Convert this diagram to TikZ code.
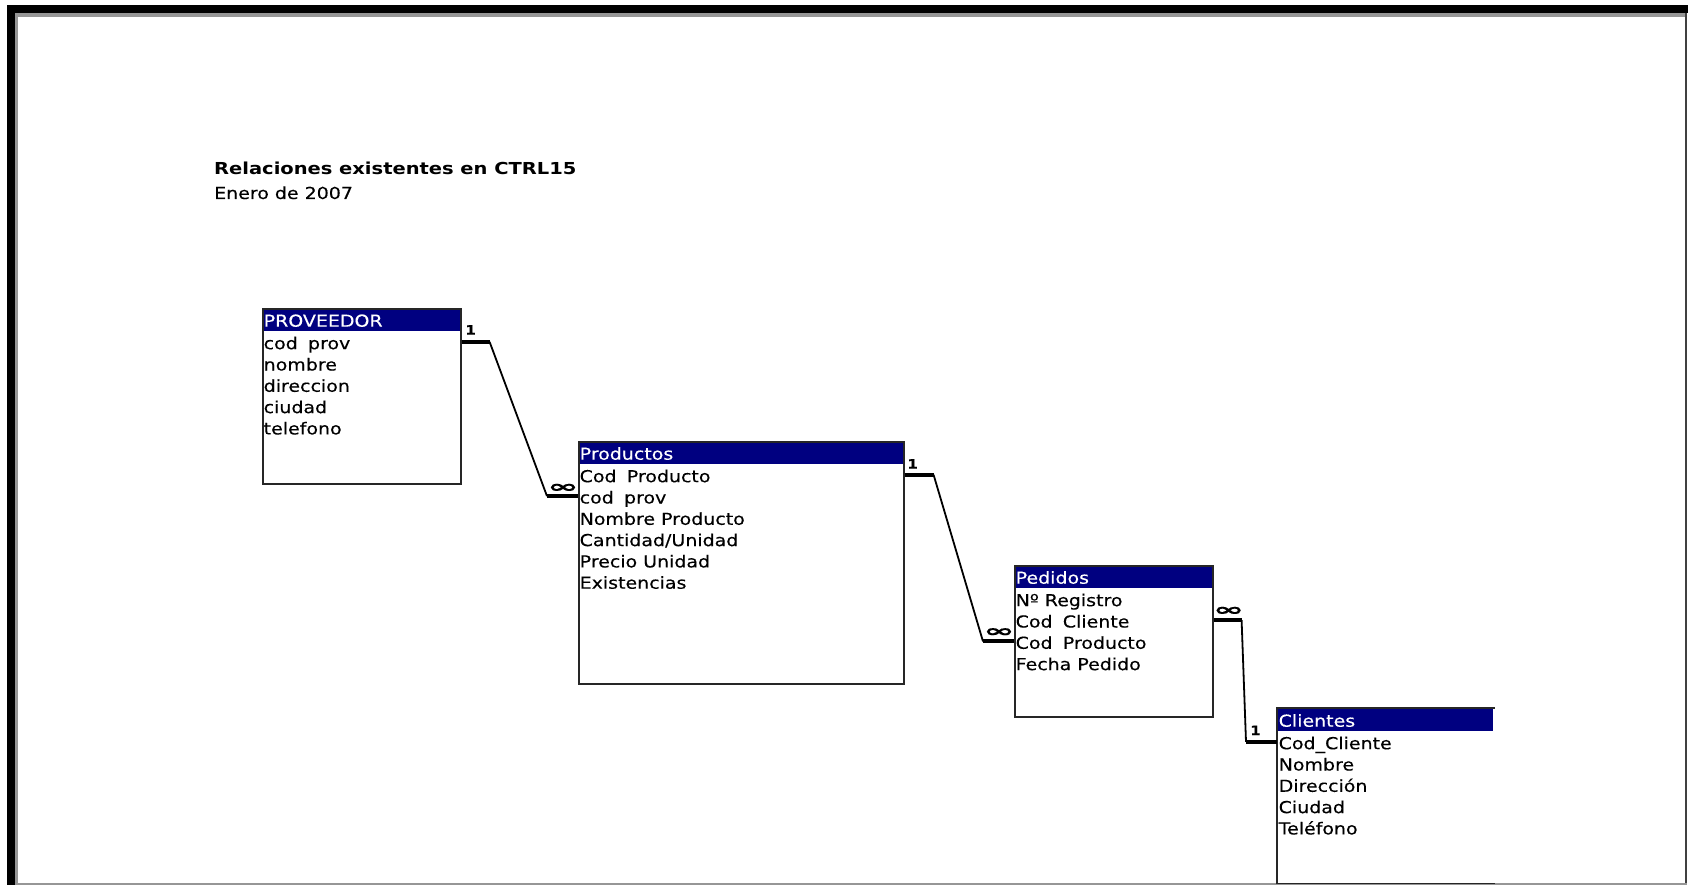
\documentclass[tikz,border=0pt]{standalone}
\usepackage{fontspec}
\setmainfont{DejaVu Sans}[FakeStretch=1.15,FakeBold=0.3]
\newfontfamily\titlefont{DejaVu Sans}[FakeStretch=1.18]
\usetikzlibrary{calc}
\definecolor{cabecera}{RGB}{0,0,128}
\definecolor{marco}{RGB}{150,150,150}
% wide gap used inside some field names
\newcommand{\hueco}{\hspace{0.62em}}

% #1 box style, #2 name, #3 left, #4 top, #5 width, #6 height, #7 title, #8 fields
\newcommand{\tablaer}[8][tablebox]{%
  \fill[cabecera] (#3,#4) rectangle ($(#3,#4)+(#5,23)$);
  \node[#1, minimum width=#5pt, minimum height=#6pt, anchor=north west] (#2) at (#3,#4) {};
  \node[headband] (#2h) at ($(#3,#4)+(1.5,0)$) {#7};
  \foreach \campo [count=\i] in {#8}
    \node[fieldrow] (#2f\i) at ($(#3,#4)+(1.5,{23+21.3*(\i-1)})$) {\campo};
}

\begin{document}
\begin{tikzpicture}[x=1pt,y=-1pt,
  tablebox/.style={draw=black!85, line width=1.6pt, inner sep=0pt},
  openbox/.style={draw=none, line width=1.6pt, inner sep=0pt},
  headband/.style={anchor=north west, inner sep=0pt, text height=18.5pt, text depth=4.5pt,
    text=white, font=\fontsize{16.5}{20}\selectfont},
  fieldrow/.style={anchor=north west, inner sep=0pt, text height=18pt, text depth=3.3pt,
    font=\fontsize{16.5}{20}\selectfont},
  stub/.style={line width=4pt},
  link/.style={line width=1.8pt, line join=round},
  onelabel/.style={font=\bfseries\fontsize{13}{13}\selectfont, inner sep=0pt},
  manylabel/.style={font=\bfseries\fontsize{17}{17}\selectfont, inner sep=0pt},
  titletext/.style={anchor=base west, inner sep=0pt},
]
\useasboundingbox (0,0) rectangle (1688,885);
\fill[white] (0,0) rectangle (1688,885);

% page frame
\fill[black] (7,5) rectangle (1688,13.3);
\fill[black] (7,5) rectangle (15,885);
\fill[marco] (15,13.3) rectangle (1685,16.7);
\fill[marco] (15,13.3) rectangle (18.3,885);
\fill[black!75] (1685,13.3) rectangle (1687.3,885);
\fill[marco] (15,882.5) rectangle (1687,884.5);

% report heading
\node[titletext, font=\titlefont\bfseries\fontsize{16.5}{20}\selectfont] (titulo) at (214,175)
  {Relaciones existentes en CTRL15};
\node[titletext, font=\fontsize{16.5}{20}\selectfont] (fecha) at (214,199) {Enero de 2007};

% tables
\tablaer{prov}{262}{308}{198}{175}{PROVEEDOR}{cod\hueco prov,nombre,direccion,ciudad,telefono}
\tablaer{prod}{578}{441}{325}{242}{Productos}{Cod\hueco Producto,cod\hueco prov,Nombre Producto,Cantidad/Unidad,Precio Unidad,Existencias}
\tablaer{ped}{1014}{565}{198}{151}{Pedidos}{Nº Registro,Cod\hueco Cliente,Cod\hueco Producto,Fecha Pedido}
\tablaer[openbox]{cli}{1277}{708}{216}{174}{Clientes}{Cod\_Cliente,Nombre,Dirección,Ciudad,Teléfono}
\draw[draw=black!85, line width=1.6pt] (cli.north east) -- (cli.north west) -- (cli.south west) -- (cli.south east);

% PROVEEDOR 1 -- oo Productos
\draw[stub] (prov.east |- provf1) -- ++(28,0) coordinate (a1);
\draw[stub] (prod.west |- prodf2) -- ++(-31,0) coordinate (a2);
\draw[link] (a1) -- (a2);
\node[onelabel] (uno1) at ($(prov.east |- provf1)+(9,-12)$) {1};
\node[manylabel] (muchos1) at ($(prod.west |- prodf2)+(-15,-8)$) {\scalebox{1.9}[1]{∞}};

% Productos 1 -- oo Pedidos
\draw[stub] (prod.east |- prodf1) -- ++(29,0) coordinate (b1);
\draw[stub] (ped.west |- pedf3) -- ++(-31,0) coordinate (b2);
\draw[link] (b1) -- (b2);
\node[onelabel] (uno2) at ($(prod.east |- prodf1)+(8,-11)$) {1};
\node[manylabel] (muchos2) at ($(ped.west |- pedf3)+(-15,-9)$) {\scalebox{1.9}[1]{∞}};

% Pedidos oo -- 1 Clientes
\draw[stub] (ped.east |- pedf2) -- ++(28,0) coordinate (c1);
\draw[stub] (cli.west |- clif1) -- ++(-31,0) coordinate (c2);
\draw[link] (c1) -- (c2);
\node[manylabel] (muchos3) at ($(ped.east |- pedf2)+(15,-9)$) {\scalebox{1.9}[1]{∞}};
\node[onelabel] (uno3) at ($(cli.west |- clif1)+(-21.5,-11.5)$) {1};
\end{tikzpicture}
\end{document}
